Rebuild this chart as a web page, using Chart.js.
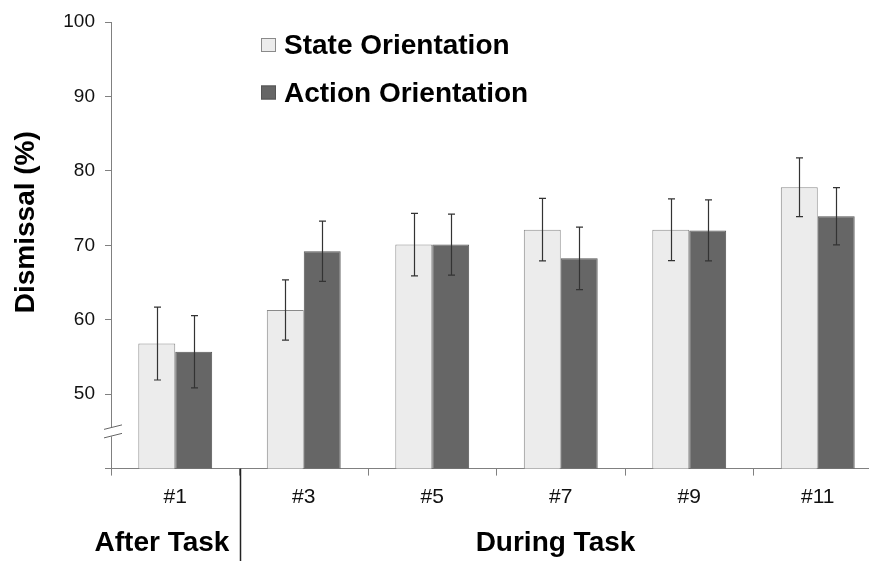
<!DOCTYPE html>
<html>
<head>
<meta charset="utf-8">
<script src="https://cdn.jsdelivr.net/npm/chart.js@4/dist/chart.umd.min.js"></script>
<style>
  html, body { margin: 0; padding: 0; background: #fff; overflow: hidden; }
  #wrap { position: relative; width: 885px; height: 561px; }
</style>
</head>
<body>
<div id="wrap"><canvas id="chart"></canvas></div>
<script>
// Values
const categories = ['#1', '#3', '#5', '#7', '#9', '#11'];
const stateMeans = [56.8, 61.3, 70.1, 72.1, 72.1, 77.8];
const stateErr = [4.9, 4.05, 4.2, 4.2, 4.15, 3.95];
const actionMeans = [55.7, 69.2, 70.1, 68.25, 72.0, 73.9];
const actionErr = [4.85, 4.05, 4.1, 4.2, 4.1, 3.85];
const yTicks = [50, 60, 70, 80, 90, 100];
const groupLabels = ['After Task', 'During Task'];
const yTitle = 'Dismissal (%)';

const FONT = '"Liberation Sans", Arial, sans-serif';
Chart.defaults.font.family = FONT;
Chart.defaults.color = '#111';

const errs = [stateErr, actionErr];

// error bars, axis break, legend, y title and the After/During labels
const extras = {
  id: 'extras',
  afterDatasetsDraw(chart) {
    const ctx = chart.ctx;
    const y = chart.scales.y;
    ctx.save();
    ctx.strokeStyle = '#333';
    ctx.lineWidth = 1.2;
    chart.data.datasets.forEach((ds, di) => {
      const meta = chart.getDatasetMeta(di);
      meta.data.forEach((bar, i) => {
        const top = y.getPixelForValue(ds.data[i] + errs[di][i]);
        const bot = y.getPixelForValue(ds.data[i] - errs[di][i]);
        const x = Math.round(bar.x) + 0.5;
        ctx.beginPath();
        ctx.moveTo(x, top); ctx.lineTo(x, bot);
        ctx.moveTo(x - 3.5, top); ctx.lineTo(x + 3.5, top);
        ctx.moveTo(x - 3.5, bot); ctx.lineTo(x + 3.5, bot);
        ctx.stroke();
      });
    });
    ctx.restore();
  },
  afterDraw(chart) {
    const ctx = chart.ctx;
    const area = chart.chartArea;
    const x = chart.scales.x, y = chart.scales.y;
    ctx.save();

    // axis break
    const by = y.getPixelForValue(45);
    const L = area.left;
    ctx.fillStyle = '#fff';
    ctx.beginPath();
    ctx.moveTo(L - 3, by - 2.7); ctx.lineTo(L + 3, by - 4.2);
    ctx.lineTo(L + 3, by + 4.3); ctx.lineTo(L - 3, by + 5.8);
    ctx.closePath(); ctx.fill();
    ctx.strokeStyle = '#666';
    ctx.lineWidth = 1;
    ctx.beginPath();
    ctx.moveTo(L - 7, by - 2); ctx.lineTo(L + 11, by - 6.5);
    ctx.moveTo(L - 7, by + 6.5); ctx.lineTo(L + 11, by + 2);
    ctx.stroke();

    // separator between After and During task
    const sep = Math.round((x.getPixelForValue(0) + x.getPixelForValue(1)) / 2) + 0.5;
    ctx.strokeStyle = '#222';
    ctx.lineWidth = 1.5;
    ctx.beginPath();
    ctx.moveTo(sep, area.bottom); ctx.lineTo(sep, chart.height);
    ctx.stroke();

    // y title (sits a little above the axis middle in the original)
    ctx.fillStyle = '#000';
    ctx.font = 'bold 28px ' + FONT;
    ctx.save();
    ctx.translate(26, y.getPixelForValue(73.1));
    ctx.rotate(-Math.PI / 2);
    ctx.textAlign = 'center';
    ctx.textBaseline = 'middle';
    ctx.fillText(yTitle, 0, 0);
    ctx.restore();

    // group labels
    ctx.textAlign = 'center';
    ctx.textBaseline = 'alphabetic';
    ctx.fillText(groupLabels[0], L + 51, 551);
    ctx.fillText(groupLabels[1], sep + 315, 551);

    // legend
    ctx.textAlign = 'left';
    chart.data.datasets.forEach((ds, i) => {
      const sy = 38 + i * 47.5;
      ctx.fillStyle = ds.backgroundColor;
      ctx.fillRect(L + 150, sy, 15, 14);
      ctx.strokeStyle = ds.borderColor;
      ctx.lineWidth = 1;
      ctx.strokeRect(L + 150.5, sy + 0.5, 14, 13);
      ctx.fillStyle = '#000';
      ctx.fillText(ds.label, L + 173, sy + 16);
    });
    ctx.restore();
  }
};

new Chart(document.getElementById('chart'), {
  type: 'bar',
  data: {
    labels: categories,
    datasets: [
      { label: 'State Orientation', data: stateMeans, backgroundColor: '#ececec', borderColor: '#8a8a8a', borderWidth: 1 },
      { label: 'Action Orientation', data: actionMeans, backgroundColor: '#666666', borderColor: '#555555', borderWidth: 1 }
    ]
  },
  options: {
    responsive: true,
    maintainAspectRatio: false,
    animation: false,
    layout: { padding: { top: 22, right: 3, bottom: 0, left: 0 } },
    plugins: { legend: { display: false }, tooltip: { enabled: false } },
    datasets: { bar: { categoryPercentage: 0.575, barPercentage: 1.0 } },
    scales: {
      x: {
        grid: { offset: true, drawOnChartArea: false, tickLength: 7, color: '#808080' },
        border: { color: '#808080' },
        ticks: { font: { size: 21 }, color: '#111', padding: 9 },
        afterFit: (s) => { s.height = 92.4; }
      },
      y: {
        min: 40, max: 100,
        afterBuildTicks: (s) => { s.ticks = [40].concat(yTicks).map(v => ({ value: v })); },
        grid: { drawOnChartArea: false, tickLength: 6, color: '#808080' },
        border: { color: '#808080' },
        ticks: { font: { size: 19 }, color: '#111', padding: 10, callback: (v) => v >= 50 ? v : '' },
        afterFit: (s) => { s.width = 111; }
      }
    }
  },
  plugins: [extras]
});
</script>
</body>
</html>
